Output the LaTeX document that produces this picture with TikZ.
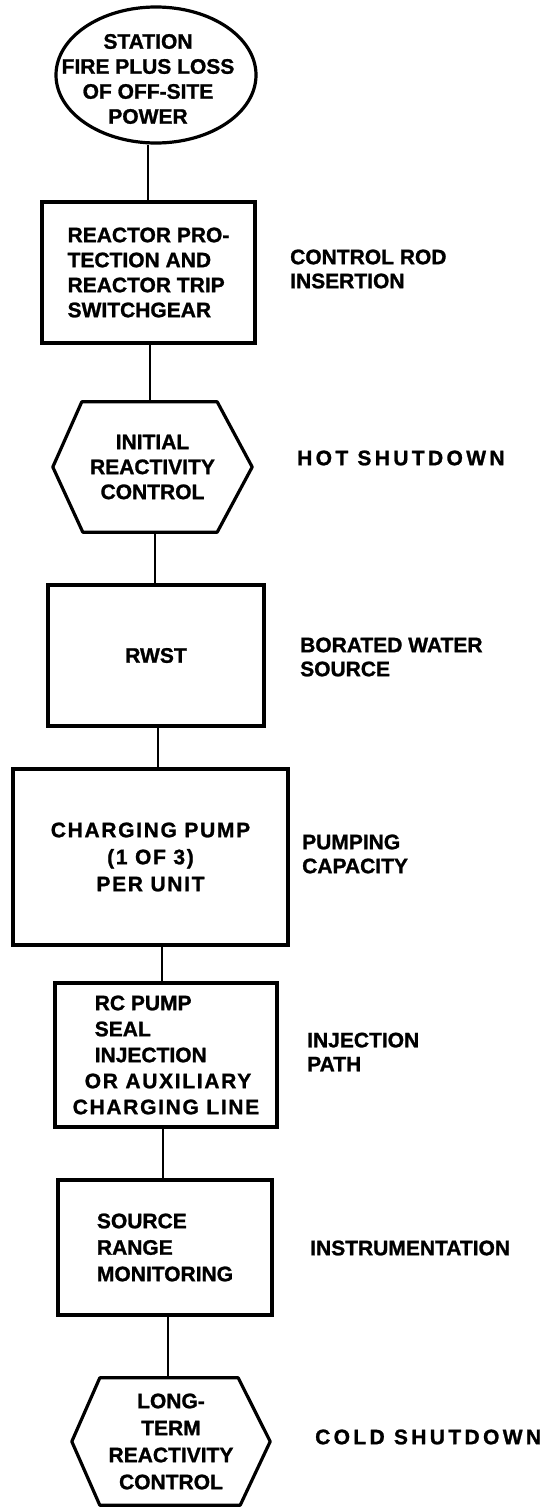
\documentclass[tikz,border=0pt]{standalone}
\usepackage{fontspec}
\setmainfont{Liberation Sans}[BoldFeatures={FakeBold=1.2}]
\newfontfamily\widefont{Liberation Sans}[LetterSpace=16, BoldFeatures={FakeBold=1.2}]
\newfontfamily\semiwide{Liberation Sans}[LetterSpace=8, BoldFeatures={FakeBold=1.2}]
\usetikzlibrary{shapes.geometric}
\tikzset{
  txt/.style={font=\bfseries\fontsize{21}{25}\selectfont},
  box/.style={draw, line width=3.2pt, inner sep=0pt, align=left, txt},
  oval/.style={ellipse, draw, line width=3.2pt, inner sep=0pt},
  hexbox/.style={inner sep=0pt, align=center, txt},
  hexline/.style={line width=3.2pt, line join=round},
  conn/.style={line width=2.4pt},
  note/.style={anchor=west, align=left, inner sep=0pt, font=\bfseries\fontsize{21}{24}\selectfont},
}
\begin{document}
\begin{tikzpicture}[x=1pt, y=-1pt]
\useasboundingbox (0,0) rectangle (545,1510);

% start oval
\node[oval, minimum width=200pt, minimum height=136pt] (start) at (156,75) {};
\node[hexbox, inner sep=0pt] (starttext) at (148,79) {STATION\\FIRE PLUS LOSS\\OF OFF-SITE\\POWER};

% reactor protection box
\node[box, minimum width=213pt, minimum height=141pt] (rps) at (148.5,272.5)
  {REACTOR PRO-\\TECTION AND\\REACTOR TRIP\\SWITCHGEAR};

% initial reactivity hexagon
\node[hexbox, minimum width=199pt, minimum height=130pt] (hex1) at (152.5,467)
  {INITIAL\\REACTIVITY\\CONTROL};
\draw[hexline] (hex1.west) -- ([xshift=29pt]hex1.north west) -- ([xshift=-35pt]hex1.north east)
  -- (hex1.east) -- ([xshift=-35pt]hex1.south east) -- ([xshift=30pt]hex1.south west) -- cycle;

% RWST box
\node[box, align=center, minimum width=216pt, minimum height=141pt] (rwst) at (156,655.5) {RWST};

% charging pump box
\node[box, align=center, minimum width=275pt, minimum height=176pt, font=\semiwide\bfseries\fontsize{21}{27}\selectfont] (pump) at (150.5,857)
  {CHARGING PUMP\\(1 OF 3)\\PER UNIT};

% RC pump seal injection box
\node[box, minimum width=222pt, minimum height=144pt, font=\bfseries\fontsize{21}{26}\selectfont] (rc) at (166,1055)
  {\hspace*{22pt}RC PUMP\\\hspace*{22pt}SEAL\\\hspace*{22pt}INJECTION\\\hspace*{12pt}{\semiwide OR AUXILIARY}\\{\semiwide CHARGING LINE}};

% source range monitoring box
\node[box, minimum width=214pt, minimum height=135pt, font=\bfseries\fontsize{21}{26.5}\selectfont] (src) at (165,1247.5)
  {SOURCE\\RANGE\\MONITORING};

% long-term reactivity hexagon
\node[hexbox, minimum width=198pt, minimum height=127pt, font=\bfseries\fontsize{21}{27}\selectfont] (hex2) at (171,1441.5)
  {LONG-\\TERM\\REACTIVITY\\CONTROL};
\draw[hexline] (hex2.west) -- ([xshift=28pt]hex2.north west) -- ([xshift=-32pt]hex2.north east)
  -- (hex2.east) -- ([xshift=-30pt]hex2.south east) -- ([xshift=28pt]hex2.south west) -- cycle;

% connectors
\coordinate (x1) at (148,0);
\coordinate (x2) at (150,0);
\coordinate (x3) at (155,0);
\coordinate (x4) at (158,0);
\coordinate (x5) at (162,0);
\coordinate (x6) at (163,0);
\coordinate (x7) at (168,0);
\draw[conn] (start.south -| x1) -- (rps.north -| x1);
\draw[conn] (rps.south -| x2) -- (hex1.north -| x2);
\draw[conn] (hex1.south -| x3) -- (rwst.north -| x3);
\draw[conn] (rwst.south -| x4) -- (pump.north -| x4);
\draw[conn] (pump.south -| x5) -- (rc.north -| x5);
\draw[conn] (rc.south -| x6) -- (src.north -| x6);
\draw[conn] (src.south -| x7) -- (hex2.north -| x7);

% side labels
\node[note] (l1) at (290,269) {CONTROL ROD\\INSERTION};
\node[note, font=\widefont\bfseries\fontsize{21}{24}\selectfont] (l2) at (297,458) {HOT SHUTDOWN};
\node[note] (l3) at (300,657) {BORATED WATER\\SOURCE};
\node[note] (l4) at (302,854) {PUMPING\\CAPACITY};
\node[note] (l5) at (307,1052) {INJECTION\\PATH};
\node[note] (l6) at (310,1248) {INSTRUMENTATION};
\node[note, font=\widefont\bfseries\fontsize{21}{24}\selectfont] (l7) at (315,1437) {COLD SHUTDOWN};
\end{tikzpicture}
\end{document}
